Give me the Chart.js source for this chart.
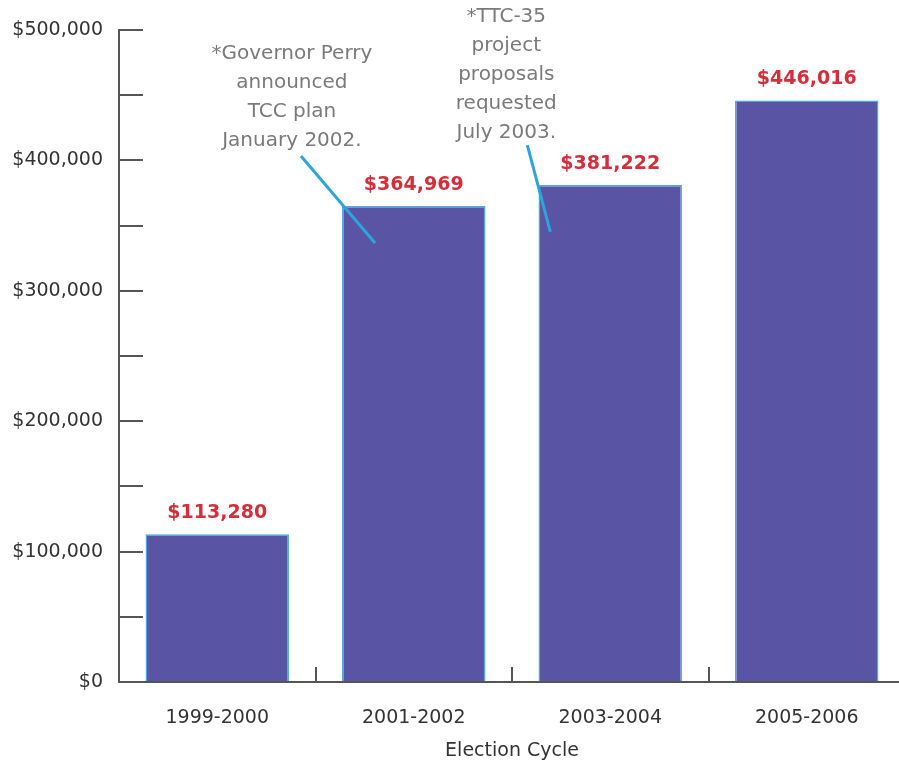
<!DOCTYPE html>
<html>
<head>
<meta charset="utf-8">
<script src="https://cdn.jsdelivr.net/npm/chart.js@4.4.1/dist/chart.umd.min.js"></script>
<style>
  html, body { margin: 0; padding: 0; background: #fff; overflow: hidden; }
  #wrap { width: 905px; height: 763px; }
</style>
</head>
<body>
<div id="wrap"><canvas id="chart" width="905" height="763"></canvas></div>
<script>
const cycles = ['1999-2000', '2001-2002', '2003-2004', '2005-2006'];
const amounts = [113280, 364969, 381222, 446016];
const yTickLabels = ['$0', '$100,000', '$200,000', '$300,000', '$400,000', '$500,000'];

// callouts, placed in data units (x = category index, y = dollars)
const notes = [
  {
    lines: ['*Governor Perry', 'announced', 'TCC plan', 'January 2002.'],
    x: 0.38, y: 482000,
    from: [0.426, 403400], to: [0.803, 336600],
  },
  {
    lines: ['*TTC-35', 'project', 'proposals', 'requested', 'July 2003.'],
    x: 1.471, y: 510000,
    from: [1.578, 411800], to: [1.695, 345100],
  },
];

const FONT = '"DejaVu Sans", sans-serif';
const AXIS = '#555555';

const money = v => '$' + Number(v).toLocaleString('en-US');

const labelsPlugin = {
  id: 'labels',
  afterDatasetsDraw(chart) {
    const ctx = chart.ctx;
    const meta = chart.getDatasetMeta(0);
    ctx.save();
    ctx.font = 'bold 19px ' + FONT;
    ctx.fillStyle = '#d22f3b';
    ctx.textAlign = 'center';
    ctx.textBaseline = 'middle';
    meta.data.forEach((bar, i) => {
      ctx.fillText(money(amounts[i]), bar.x, bar.y - 21);
    });

    const xs = chart.scales.x;
    const ys = chart.scales.y;
    notes.forEach(note => {
      ctx.strokeStyle = '#2ea4dd';
      ctx.lineWidth = 3;
      ctx.beginPath();
      ctx.moveTo(xs.getPixelForValue(note.from[0]), ys.getPixelForValue(note.from[1]));
      ctx.lineTo(xs.getPixelForValue(note.to[0]), ys.getPixelForValue(note.to[1]));
      ctx.stroke();

      ctx.font = '20px ' + FONT;
      ctx.fillStyle = '#7a7a7a';
      const cx = xs.getPixelForValue(note.x);
      const top = ys.getPixelForValue(note.y);
      note.lines.forEach((line, k) => ctx.fillText(line, cx, top + k * 29));
    });
    ctx.restore();
  }
};

new Chart(document.getElementById('chart'), {
  type: 'bar',
  data: {
    labels: cycles,
    datasets: [{
      data: amounts,
      backgroundColor: '#5954a3',
      borderColor: '#4aa9e2',
      borderWidth: 1.5,
      barPercentage: 0.73,
      categoryPercentage: 1,
    }],
  },
  options: {
    responsive: false,
    animation: false,
    layout: { padding: { top: 30, right: 0, left: 0, bottom: 0 } },
    plugins: { legend: { display: false }, tooltip: { enabled: false } },
    scales: {
      x: {
        grid: { display: true, drawOnChartArea: false, drawTicks: true, tickLength: -15, color: AXIS, lineWidth: 2, offset: true },
        border: { display: true, color: AXIS, width: 2 },
        ticks: { color: '#333', font: { family: FONT, size: 19 }, padding: 40, maxRotation: 0 },
        title: { display: true, text: 'Election Cycle', color: '#333', font: { family: FONT, size: 19 }, padding: { top: 0, bottom: 1 } },
        afterFit(scale) { scale.height = 81; },
      },
      y: {
        min: 0,
        max: 500000,
        grid: { display: true, drawOnChartArea: false, drawTicks: true, tickLength: -24, color: AXIS, lineWidth: 2 },
        border: { display: true, color: AXIS, width: 2 },
        ticks: {
          stepSize: 50000,
          autoSkip: false,
          padding: 40,
          color: '#333',
          font: { family: FONT, size: 19 },
          callback: v => (v % 100000 === 0 ? yTickLabels[v / 100000] : ''),
        },
        afterFit(scale) {
          scale.width = 119;
          scale.paddingTop = 0;
          scale.paddingBottom = 0;
        },
      },
    },
  },
  plugins: [labelsPlugin],
});
</script>
</body>
</html>
